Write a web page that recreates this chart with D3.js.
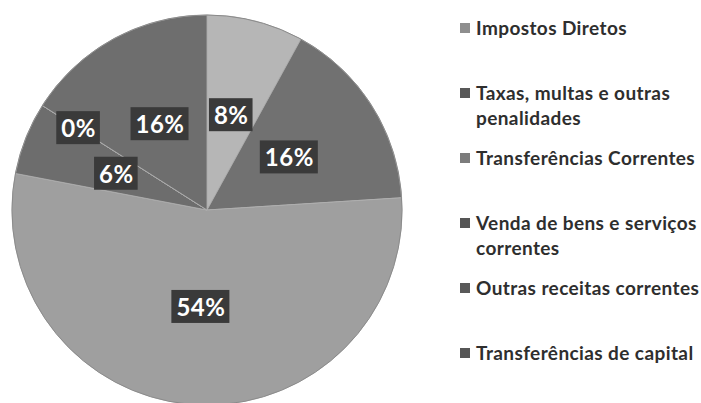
<!DOCTYPE html>
<html>
<head>
<meta charset="utf-8">
<script src="https://cdn.jsdelivr.net/npm/d3@7"></script>
<style>
  body { margin: 0; background: #fff; }
  svg { display: block; }
</style>
</head>
<body>
<script>
const categories = [
  'Impostos Diretos',
  'Taxas, multas e outras penalidades',
  'Transferências Correntes',
  'Venda de bens e serviços correntes',
  'Outras receitas correntes',
  'Transferências de capital'
]
const values = [8, 16, 54, 6, 0, 16]
const sliceColors = ['#b6b6b6', '#717171', '#9f9f9f', '#6d6d6d', '#727272', '#6e6e6e']

let width = 701
let height = 403
let cx = 207, cy = 210, radius = 195

const svg = d3.select('body')
  .append('svg')
  .attr('width', width)
  .attr('height', height)

const pie = d3.pie().sort(null).value(d => d.value)
const data = categories.map((c, i) => ({ name: c, value: values[i], color: sliceColors[i] }))
const arcs = pie(data)

const arc = d3.arc().innerRadius(0).outerRadius(radius)

const g = svg.append('g').attr('transform', `translate(${cx},${cy})`)

g.selectAll('path.slice')
  .data(arcs)
  .enter()
  .append('path')
  .attr('class', 'slice')
  .attr('d', arc)
  .attr('fill', d => d.data.color)
  .attr('stroke', '#b0b0b0')
  .attr('stroke-width', 0.8)

// outer rim
g.append('circle')
  .attr('r', radius)
  .attr('fill', 'none')
  .attr('stroke', '#8a8a8a')
  .attr('stroke-width', 1)

// data labels (zero slice gets pushed outward like Excel does)
const labelArc = d3.arc().innerRadius(radius * 0.5).outerRadius(radius * 0.5)
const zeroArc = d3.arc().innerRadius(radius * 0.78).outerRadius(radius * 0.78)

const labels = g.selectAll('g.label')
  .data(arcs)
  .enter()
  .append('g')
  .attr('class', 'label')
  .attr('transform', d => {
    const p = (d.data.value === 0 ? zeroArc : labelArc).centroid(d)
    return `translate(${p[0]},${p[1]})`
  })

labels.append('text')
  .attr('text-anchor', 'middle')
  .attr('dy', '0.36em')
  .style('font-family', 'Lato, "Open Sans", sans-serif')
  .style('font-weight', 'bold')
  .style('font-size', '24px')
  .style('letter-spacing', '0.5px')
  .attr('fill', '#fff')
  .text(d => d.data.value + '%')
  .each(function () {
    const b = this.getBBox()
    d3.select(this.parentNode).insert('rect', 'text')
      .attr('x', b.x - 5)
      .attr('y', b.y - 2)
      .attr('width', b.width + 9)
      .attr('height', b.height + 4)
      .attr('fill', '#3a3a3a')
  })

// Legend
const legendY = d3.scalePoint().domain(categories).range([28, 353])
const legend = svg.append('g').attr('transform', 'translate(460,0)')
const maxText = 224

categories.forEach((c, i) => {
  const ly = legendY(c)
  const item = legend.append('g')
  const t = item.append('text')
    .attr('x', 16)
    .attr('y', ly)
    .style('font-family', 'Lato, "Open Sans", sans-serif')
    .style('font-weight', 'bold')
    .style('font-size', '19px')
    .style('letter-spacing', '0.4px')
    .attr('fill', '#2e2e2e')

  // wrap words into lines
  const words = c.split(' ')
  let lines = []
  let line = []
  const tmp = t.append('tspan')
  words.forEach(w => {
    line.push(w)
    tmp.text(line.join(' '))
    if (tmp.node().getComputedTextLength() > maxText && line.length > 1) {
      line.pop()
      lines.push(line.join(' '))
      line = [w]
    }
  })
  lines.push(line.join(' '))
  tmp.remove()
  lines.forEach((l, k) => {
    t.append('tspan').attr('x', 16).attr('dy', k === 0 ? '0.35em' : '1.32em').text(l)
  })

  item.append('rect')
    .attr('x', 0)
    .attr('y', ly - 5)
    .attr('width', 10)
    .attr('height', 10)
    .attr('fill', d3.color(sliceColors[i]).darker(0.7))
})
</script>
</body>
</html>
